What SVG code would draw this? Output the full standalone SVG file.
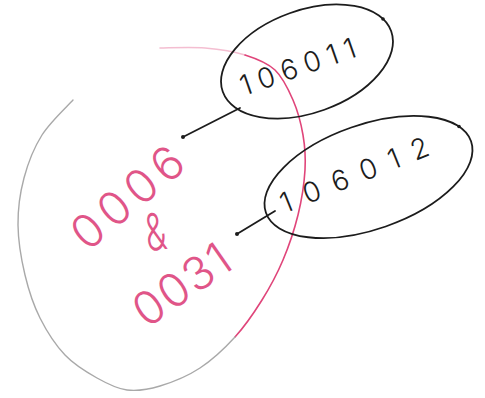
<svg xmlns="http://www.w3.org/2000/svg" width="485" height="398" viewBox="0 0 485 398">
<style>
.ink{fill:none;stroke:#1c1c1c;stroke-width:1.8;stroke-linecap:round}
.red{fill:none;stroke:#e0457a;stroke-width:1.6;stroke-linecap:round}
.gry{fill:none;stroke:#a9a9a9;stroke-width:1.4;stroke-linecap:round}
.blk{font-family:Inter,"Noto Sans","Liberation Sans",sans-serif;font-weight:300;font-size:28px;fill:#1c1c1c}
.rtx{font-family:Inter,"Noto Sans","Liberation Sans",sans-serif;font-weight:300;font-size:46px;fill:#e05588}
.dot{fill:#1c1c1c}
</style>
<rect width="485" height="398" fill="#ffffff"/>
<g id="n0006-0031">
<path class="red" opacity="0.35" d="M160,48 C167.5,48 190.8,46.8 205,48 C219.2,49.2 233.3,51.3 245,55"/>
<path class="red" d="M245,55 C256.7,58.7 267,62.5 275,70 C283,77.5 288.3,89.2 293,100 C297.7,110.8 301,123.3 303,135 C305,146.7 305.8,156.7 305,170 C304.2,183.3 301.7,200 298,215 C294.3,230 289,245.8 283,260 C277,274.2 270,287.2 262,300 C254,312.8 245.3,325.7 235,337"/>
<path class="gry" d="M235,337 C224.7,348.3 212.5,359.8 200,368 C187.5,376.2 172.2,382.3 160,386 C147.8,389.7 137.5,391.3 127,390 C116.5,388.7 107.3,383.8 97,378 C86.7,372.2 74.5,365 65,355 C55.5,345 46.7,331.3 40,318 C33.3,304.7 28.7,290.5 25,275 C21.3,259.5 18.2,241.2 18,225 C17.8,208.8 20,193 24,178 C28,163 33.8,148 42,135 C50.2,122 67.8,105.8 73,100"/>
<text class="rtx" transform="translate(138,210) rotate(-40)" text-anchor="middle" textLength="132" lengthAdjust="spacing">0006</text>
<text class="rtx" transform="translate(158,250) rotate(-8) scale(0.72,1.12)" text-anchor="middle">&amp;</text>
<text class="rtx" transform="translate(191,298) rotate(-35)" text-anchor="middle" textLength="108" lengthAdjust="spacing">0031</text>
</g>
<g id="n106011">
<ellipse class="ink" cx="307" cy="61.5" rx="89.5" ry="51.3" transform="rotate(-19.8 307 61.5)"/>
<circle class="dot" cx="383" cy="19" r="1.8"/>
<text class="blk" transform="translate(301,76) rotate(-19.3)" text-anchor="middle" textLength="121" lengthAdjust="spacing">106011</text>
</g>
<g id="n106012">
<ellipse class="ink" cx="368.5" cy="177" rx="108.6" ry="52.4" transform="rotate(-19.2 368.5 177)"/>
<circle class="dot" cx="459" cy="126.5" r="1.8"/>
<text class="blk" transform="translate(358,184) rotate(-21.9)" text-anchor="middle" textLength="158" lengthAdjust="spacing">106012</text>
</g>
<g id="connectors">
<line class="ink" x1="183" y1="137" x2="240" y2="108"/>
<circle class="dot" cx="183" cy="137" r="2"/>
<line class="ink" x1="237" y1="234" x2="275" y2="211"/>
<circle class="dot" cx="237" cy="234" r="2"/>
</g>
</svg>
